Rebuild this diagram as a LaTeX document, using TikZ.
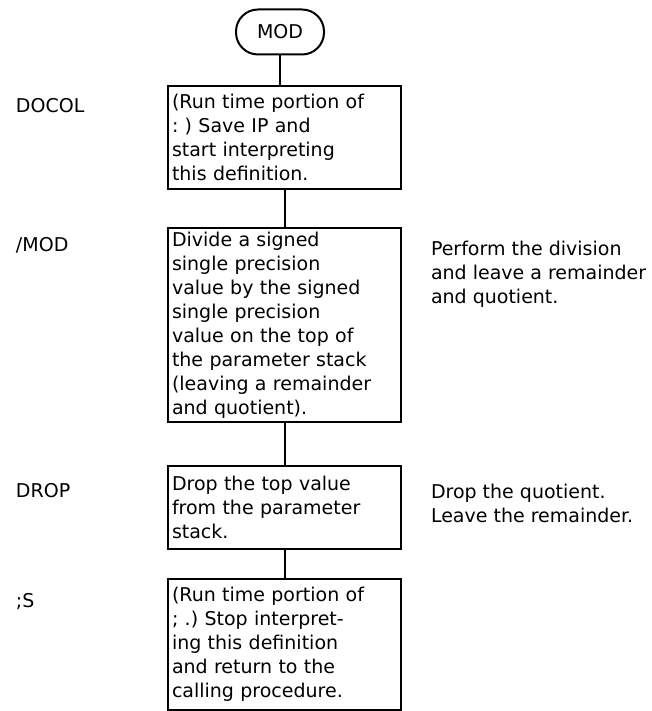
\documentclass[tikz,border=0pt]{standalone}
\usepackage{fontspec}
\setmainfont{DejaVu Sans}
\begin{document}
\begin{tikzpicture}[x=1pt,y=-1pt,line width=2pt,
  every node/.style={font=\fontsize{19}{24}\selectfont\frenchspacing},
  stepbox/.style={draw,anchor=north west,align=left,text width=225pt,inner sep=4pt,minimum height=#1},
  term/.style={draw,rounded corners=22pt,minimum width=88pt,minimum height=45pt},
  lbl/.style={anchor=base west,inner sep=0pt},
  note/.style={anchor=north west,align=left,inner sep=0pt}]
\useasboundingbox (0,0) rectangle (651,711);
\node[term] (mod) at (280,32) {MOD};
\node[stepbox=103pt] (docol) at (167,85) {(Run time portion of\\: ) Save IP and\\start interpreting\\this definition.};
\node[stepbox=193pt] (slashmod) at (167,227) {Divide a signed\\single precision\\value by the signed\\single precision\\value on the top of\\the parameter stack\\(leaving a remainder\\and quotient).};
\node[stepbox=83pt] (drop) at (167,465) {Drop the top value\\from the parameter\\stack.};
\node[stepbox=131pt] (semis) at (167,578) {(Run time portion of\\; .) Stop interpret-\\ing this definition\\and return to the\\calling procedure.};
% names of the words
\node[lbl] (ldocol) at (15,113) {DOCOL};
\node[lbl] (lslashmod) at (15,251) {/MOD};
\node[lbl] (ldrop) at (15,497) {DROP};
\node[lbl] (lsemis) at (15,607) {;S};
% remarks
\node[note] (nslashmod) at (430,240) {Perform the division\\and leave a remainder\\and quotient.};
\node[note] (ndrop) at (430,483) {Drop the quotient.\\Leave the remainder.};
\draw (mod.south) -- (mod.south |- docol.north);
\draw (docol.south) -- (slashmod.north);
\draw (slashmod.south) -- (drop.north);
\draw (drop.south) -- (semis.north);
\end{tikzpicture}
\end{document}
